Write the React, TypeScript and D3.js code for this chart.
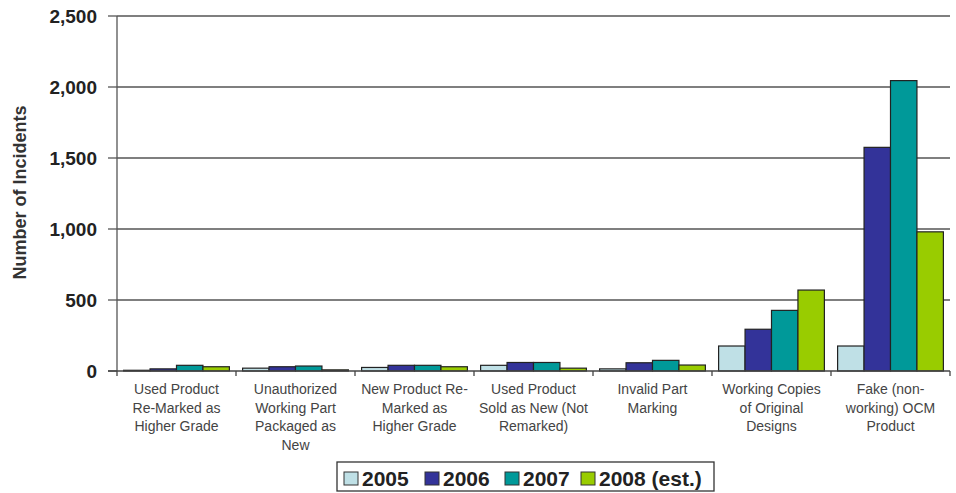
import React from "react";
import * as d3 from "d3";

const categories: string[][] = [
  ["Used Product", "Re-Marked as", "Higher Grade"],
  ["Unauthorized", "Working Part", "Packaged as", "New"],
  ["New Product Re-", "Marked as", "Higher Grade"],
  ["Used Product", "Sold as New (Not", "Remarked)"],
  ["Invalid Part", "Marking"],
  ["Working Copies", "of Original", "Designs"],
  ["Fake (non-", "working) OCM", "Product"],
];

const seriesNames = ["2005", "2006", "2007", "2008 (est.)"];
const seriesColors = ["#bfe0e6", "#333399", "#009999", "#99cc00"];

const values2005 = [5, 20, 25, 40, 15, 176, 176];
const values2006 = [15, 30, 40, 60, 58, 294, 1575];
const values2007 = [40, 35, 40, 60, 75, 427, 2045];
const values2008 = [30, 8, 30, 20, 42, 570, 980];
const series = [values2005, values2006, values2007, values2008];

const yTicks = [0, 500, 1000, 1500, 2000, 2500];

const W = 956;
const H = 493;
const left = 117;
const right = 950;
const top = 16;
const bottom = 371;

export default function App() {
  const x0 = d3
    .scaleBand<number>()
    .domain(categories.map((_, i) => i))
    .range([left, right])
    .paddingInner(0)
    .paddingOuter(0);
  const x1 = d3
    .scaleBand<number>()
    .domain(series.map((_, i) => i))
    .range([0, x0.bandwidth()])
    .paddingOuter(0.25)
    .paddingInner(0);
  const y = d3.scaleLinear().domain([0, 2500]).range([bottom, top]);
  const fmt = d3.format(",");
  const font = "'Liberation Sans', Arial, sans-serif";

  const boundaries = d3.range(categories.length + 1).map(
    (i) => left + i * x0.bandwidth()
  );

  // legend layout
  const itemX = [344, 425, 505, 581];

  return (
    <svg
      width={W}
      height={H}
      style={{ position: "absolute", left: 0, top: 0, background: "#fff" }}
      fontFamily={font}
    >
      {/* gridlines and y ticks */}
      {yTicks.map((t) => (
        <g key={t}>
          {t > 0 && (
            <line x1={left} x2={right} y1={y(t)} y2={y(t)} stroke="#555" strokeWidth={1.3} />
          )}
          <line x1={left - 9} x2={left} y1={y(t)} y2={y(t)} stroke="#555" strokeWidth={1.3} />
          <text
            x={97}
            y={y(t)}
            dy="0.36em"
            textAnchor="end"
            fontSize={19}
            fontWeight="bold"
            fill="#222"
          >
            {fmt(t)}
          </text>
        </g>
      ))}

      {/* bars */}
      {categories.map((_, ci) => (
        <g key={ci} transform={`translate(${x0(ci)},0)`}>
          {series.map((vals, si) => (
            <rect
              key={si}
              x={x1(si)}
              y={y(vals[ci])}
              width={x1.bandwidth()}
              height={bottom - y(vals[ci])}
              fill={seriesColors[si]}
              stroke="#222"
              strokeWidth={1.2}
            />
          ))}
        </g>
      ))}

      {/* axes */}
      <line x1={left} x2={left} y1={top} y2={bottom} stroke="#555" strokeWidth={1.3} />
      <line x1={left - 9} x2={right} y1={bottom} y2={bottom} stroke="#444" strokeWidth={1.5} />
      {boundaries.map((bx, i) => (
        <line key={i} x1={bx} x2={bx} y1={bottom} y2={bottom + 5} stroke="#444" strokeWidth={1.3} />
      ))}

      {/* category labels */}
      {categories.map((lines, ci) => {
        const cx = (x0(ci) ?? 0) + x0.bandwidth() / 2;
        return (
          <text key={ci} x={cx} y={394} textAnchor="middle" fontSize={14} fill="#444">
            {lines.map((l, li) => (
              <tspan key={li} x={cx} dy={li === 0 ? 0 : 18.5}>
                {l}
              </tspan>
            ))}
          </text>
        );
      })}

      {/* y title */}
      <text
        transform={`translate(20,192.5) rotate(-90)`}
        textAnchor="middle"
        dy="0.36em"
        fontSize={18}
        fontWeight="bold"
        fill="#333"
      >
        Number of Incidents
      </text>

      {/* legend */}
      <rect x={337} y={462} width={377} height={29} fill="#fff" stroke="#333" strokeWidth={1.3} />
      {seriesNames.map((n, i) => (
        <g key={n}>
          <rect
            x={itemX[i]}
            y={472}
            width={14}
            height={13}
            fill={seriesColors[i]}
            stroke="#333"
            strokeWidth={1}
          />
          <text x={itemX[i] + 18} y={486} fontSize={21} fontWeight="bold" fill="#222">
            {n}
          </text>
        </g>
      ))}
    </svg>
  );
}
